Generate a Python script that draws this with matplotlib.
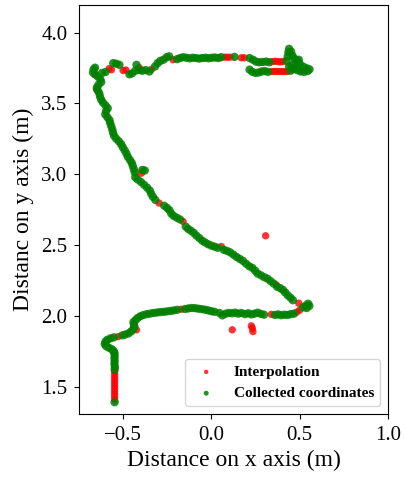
import matplotlib
matplotlib.use("Agg")
import matplotlib.pyplot as plt

plt.rcParams['font.family'] = ['Liberation Serif', 'DejaVu Serif']

# ---- data (x, y) in metres ----
green_bottom = [
    (-0.549, 1.390),
    (-0.549, 1.620), (-0.548, 1.640), (-0.550, 1.660), (-0.549, 1.680), (-0.550, 1.700),
    (-0.549, 1.720), (-0.550, 1.738), (-0.555, 1.752), (-0.566, 1.764), (-0.582, 1.775),
    (-0.597, 1.786), (-0.605, 1.800), (-0.601, 1.817), (-0.590, 1.831), (-0.572, 1.841),
    (-0.553, 1.848), (-0.505, 1.862), (-0.488, 1.868), (-0.470, 1.876), (-0.455, 1.890),
    (-0.443, 1.906), (-0.437, 1.922), (-0.440, 1.940), (-0.442, 1.956), (-0.430, 1.970),
    (-0.418, 1.985), (-0.403, 1.997), (-0.385, 2.006), (-0.366, 2.012), (-0.347, 2.016),
    (-0.328, 2.020), (-0.309, 2.023), (-0.290, 2.026), (-0.271, 2.028), (-0.252, 2.031),
    (-0.233, 2.034), (-0.214, 2.038), (-0.195, 2.042), (-0.150, 2.048), (-0.131, 2.052),
    (-0.112, 2.055), (-0.093, 2.054), (-0.074, 2.050), (-0.055, 2.047), (-0.036, 2.043),
    (-0.018, 2.038), (0.000, 2.032), (0.018, 2.028), (0.045, 2.020), (0.062, 2.003),
    (0.080, 2.015), (0.098, 2.020), (0.116, 2.018), (0.134, 2.022), (0.152, 2.015),
    (0.170, 2.020), (0.190, 2.012), (0.208, 2.018), (0.226, 2.010), (0.244, 2.015),
    (0.262, 2.022), (0.280, 2.013), (0.298, 2.008), (0.360, 2.006), (0.378, 2.010),
    (0.396, 2.004), (0.414, 2.008), (0.432, 2.006), (0.450, 2.012), (0.468, 2.015),
    (0.520, 2.060), (0.535, 2.072), (0.548, 2.085), (0.555, 2.070), (0.540, 2.055),
]

green_diagonal = [
    (0.462, 2.110), (0.448, 2.128), (0.432, 2.145), (0.418, 2.165), (0.405, 2.183),
    (0.390, 2.195), (0.372, 2.205), (0.352, 2.228), (0.335, 2.245), (0.318, 2.262),
    (0.300, 2.272), (0.282, 2.285), (0.262, 2.298), (0.248, 2.318), (0.232, 2.338),
    (0.214, 2.350), (0.196, 2.368), (0.178, 2.388), (0.160, 2.402), (0.142, 2.416),
    (0.124, 2.432), (0.106, 2.448), (0.088, 2.458), (0.070, 2.466), (0.035, 2.480),
    (0.018, 2.488), (0.000, 2.495), (-0.018, 2.505), (-0.036, 2.518), (-0.052, 2.530),
    (-0.068, 2.548), (-0.085, 2.566), (-0.100, 2.585), (-0.116, 2.600), (-0.132, 2.613),
    (-0.146, 2.630), (-0.178, 2.680), (-0.196, 2.692), (-0.214, 2.705), (-0.228, 2.722),
    (-0.238, 2.745), (-0.252, 2.762), (-0.268, 2.777), (-0.318, 2.818), (-0.332, 2.840),
    (-0.342, 2.862), (-0.350, 2.885), (-0.365, 2.905), (-0.382, 2.925), (-0.400, 2.945),
    (-0.418, 2.962), (-0.432, 2.978), (-0.378, 3.026), (-0.392, 3.030), (-0.435, 3.012),
    (-0.440, 3.035), (-0.446, 3.058), (-0.452, 3.080), (-0.462, 3.100), (-0.474, 3.122),
    (-0.482, 3.145), (-0.492, 3.168), (-0.503, 3.190), (-0.512, 3.212), (-0.525, 3.232),
    (-0.540, 3.250), (-0.552, 3.270), (-0.558, 3.292), (-0.562, 3.315), (-0.568, 3.338),
    (-0.574, 3.360), (-0.578, 3.382), (-0.590, 3.402), (-0.602, 3.422), (-0.598, 3.445),
    (-0.588, 3.465), (-0.600, 3.485), (-0.615, 3.505), (-0.625, 3.525), (-0.632, 3.548),
    (-0.636, 3.570), (-0.645, 3.592), (-0.650, 3.612), (-0.640, 3.632), (-0.625, 3.650),
    (-0.630, 3.670), (-0.645, 3.690), (-0.660, 3.705), (-0.672, 3.718), (-0.668, 3.740),
    (-0.660, 3.752),
]

green_top = [
    (-0.620, 3.715), (-0.600, 3.722), (-0.557, 3.784), (-0.540, 3.780), (-0.522, 3.772),
    (-0.465, 3.705), (-0.450, 3.712), (-0.432, 3.730), (-0.425, 3.772), (-0.410, 3.735),
    (-0.392, 3.730), (-0.372, 3.735), (-0.352, 3.725), (-0.320, 3.760), (-0.305, 3.784),
    (-0.290, 3.800), (-0.272, 3.808), (-0.255, 3.825), (-0.240, 3.832), (-0.195, 3.812),
    (-0.178, 3.820), (-0.160, 3.826), (-0.142, 3.822), (-0.124, 3.818), (-0.106, 3.822),
    (-0.088, 3.820), (-0.070, 3.816), (-0.052, 3.820), (-0.034, 3.822), (-0.016, 3.818),
    (0.002, 3.822), (0.020, 3.824), (0.038, 3.820), (0.055, 3.826), (0.131, 3.828),
    (0.216, 3.820), (0.235, 3.808), (0.252, 3.795), (0.270, 3.790), (0.290, 3.792),
    (0.310, 3.795), (0.328, 3.790), (0.425, 3.800), (0.432, 3.830), (0.436, 3.860),
    (0.440, 3.885), (0.452, 3.865), (0.460, 3.835), (0.470, 3.815), (0.485, 3.800),
    (0.500, 3.780), (0.520, 3.760), (0.540, 3.748), (0.556, 3.740), (0.545, 3.728),
    (0.525, 3.722), (0.505, 3.725), (0.485, 3.735), (0.465, 3.742), (0.448, 3.730),
    (0.440, 3.760), (0.455, 3.770), (0.475, 3.770), (0.495, 3.808), (0.216, 3.738),
    (0.232, 3.722), (0.250, 3.715), (0.268, 3.718), (0.285, 3.725), (0.302, 3.728),
    (0.320, 3.722),
]

red_points = [
    (-0.549, 1.405), (-0.549, 1.425), (-0.549, 1.445), (-0.549, 1.465), (-0.549, 1.485),
    (-0.549, 1.505), (-0.549, 1.525), (-0.549, 1.545), (-0.549, 1.565), (-0.549, 1.585),
    (-0.549, 1.605), (-0.529, 1.853), (-0.425, 1.901), (-0.172, 2.046), (0.339, 2.010),
    (0.484, 2.026), (0.500, 2.040), (0.118, 1.901), (0.226, 1.929), (0.232, 1.912),
    (0.235, 1.889), (0.307, 2.565), (0.495, 2.089), (0.367, 2.219), (0.056, 2.489),
    (-0.161, 2.666), (-0.297, 2.796), (-0.397, 3.007), (-0.652, 3.600), (-0.660, 3.702),
    (-0.567, 3.737), (-0.580, 3.745), (-0.501, 3.732), (-0.485, 3.735), (-0.410, 3.752),
    (-0.340, 3.740), (-0.218, 3.808), (0.075, 3.826), (0.090, 3.826), (0.106, 3.826),
    (0.169, 3.822), (0.186, 3.822), (0.345, 3.795), (0.360, 3.797), (0.376, 3.795),
    (0.390, 3.793), (0.405, 3.795), (0.340, 3.725), (0.355, 3.725), (0.370, 3.725),
    (0.385, 3.725), (0.400, 3.725), (0.415, 3.725), (0.430, 3.725),
]

labels = ["Interpolation", "Collected coordinates"]
x_label = "Distance on x axis (m)"
y_label = "Distanc on y axis (m)"

green_all = green_bottom + green_diagonal + green_top
gx = [p[0] for p in green_all]
gy = [p[1] for p in green_all]
rx = [p[0] for p in red_points]
ry = [p[1] for p in red_points]

fig = plt.figure(figsize=(4.04, 4.78), dpi=100)
ax = fig.add_axes([0.196, 0.134, 0.764, 0.856])

ax.scatter(rx, ry, s=28, c='red', alpha=0.8, edgecolors='none', label=labels[0], zorder=2)
ax.scatter(gx, gy, s=36, c='green', alpha=0.85, edgecolors='none', label=labels[1], zorder=3)

ax.set_xlim(-0.75, 1.0)
ax.set_ylim(1.307, 4.196)
ax.set_xticks([-0.5, 0.0, 0.5, 1.0])
ax.set_yticks([1.5, 2.0, 2.5, 3.0, 3.5, 4.0])
ax.tick_params(labelsize=15, pad=5)
ax.set_xlabel(x_label, fontsize=17, labelpad=4)
ax.set_ylabel(y_label, fontsize=17, labelpad=5)

leg = ax.legend(loc='lower right', prop={'weight': 'bold', 'size': 11}, markerscale=0.6)

fig.savefig("out.png", dpi=100)
